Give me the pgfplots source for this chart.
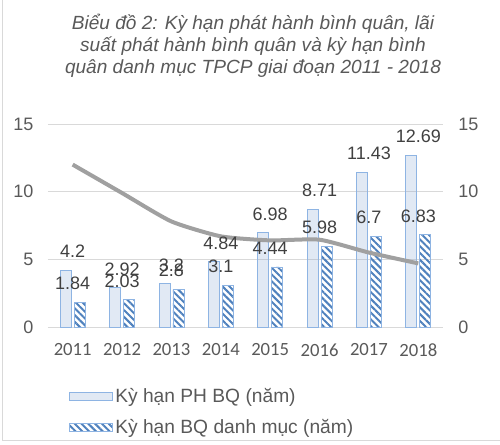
\documentclass[border=0pt]{standalone}
\usepackage{fontspec}
\setmainfont{Liberation Sans}
\newfontfamily\calibri{Carlito}
\usepackage{pgfplots}
\pgfplotsset{compat=1.18}
\usetikzlibrary{patterns.meta}
\definecolor{txt}{HTML}{595959}
\definecolor{lbl}{HTML}{404040}
\definecolor{barline}{HTML}{8EB4E3}
\definecolor{hatch}{HTML}{4F81BD}
\definecolor{dotc}{HTML}{7F9FCF}
\definecolor{linec}{HTML}{A0A0A0}
\definecolor{gridc}{HTML}{D9D9D9}
\pgfplotsset{rectlegend/.style={legend image code/.code={\draw[##1] (0pt,-3pt) rectangle (32pt,3pt);}}}
\begin{document}
\begin{tikzpicture}
\useasboundingbox (0,0) rectangle (375pt,333pt);
\draw[gridc, line width=0.75pt] (1.5pt,333pt) -- (1.5pt,3pt) -- (375pt,3pt);
\node[font=\fontsize{14.3}{16.5}\selectfont\itshape, text=txt, align=center] at (189.75pt,299pt)
 {Biểu đồ 2: Kỳ hạn phát hành bình quân, lãi\\suất phát hành bình quân và kỳ hạn bình\\quân danh mục TPCP giai đoạn 2011 - 2018};
\coordinate (axo) at (36pt,87.75pt);
\begin{axis}[
 at={(axo)}, anchor=south west,
 width=296.25pt, height=152.25pt, scale only axis,
 xmin=-0.5, xmax=7.5, ymin=0, ymax=15,
 ytick={0,5,10,15}, xtick={0,...,7},
 xticklabels={2011,2012,2013,2014,2015,2016,2017,2018},
 axis line style={draw=none}, major tick length=0pt,
 ymajorgrids, grid style={gridc, line width=0.75pt},
 tick label style={text=txt},
 yticklabel style={font=\fontsize{13.5}{14}\selectfont, xshift=-7.5pt},
 xticklabel style={font=\calibri\fontsize{14}{15}\selectfont, yshift=-9pt},
 /pgf/number format/assume math mode=true,
 legend style={at={(0.053,-0.29)}, anchor=north west, draw=none, fill=none,
   inner sep=0pt, row sep=6.5pt, font=\fontsize{14.4}{16}\selectfont, text=txt,
   cells={anchor=west}},
 legend cell align=left,
]
\addplot[ybar, bar width=8.25pt, bar shift=-5.25pt, draw=barline, line width=0.6pt,
  pattern={Dots[distance=1.5pt, radius=0.42pt]}, pattern color=dotc,
  nodes near coords, nodes near coords style={font=\fontsize{13.5}{14}\selectfont, text=lbl, yshift=5.5pt},
  rectlegend]
 coordinates {(0,4.2) (1,2.92) (2,3.2) (3,4.84) (4,6.98) (5,8.71) (6,11.43) (7,12.69)};
\addlegendentry{Kỳ hạn PH BQ (năm)}
\addplot[ybar, bar width=8.25pt, bar shift=5.25pt, draw=barline, line width=0.6pt,
  pattern={Lines[angle=-45, distance=3.6pt, line width=1.5pt]}, pattern color=hatch,
  nodes near coords, nodes near coords style={font=\fontsize{13.5}{14}\selectfont, text=lbl, yshift=5.5pt},
  rectlegend]
 coordinates {(0,1.84) (1,2.03) (2,2.8) (3,3.1) (4,4.44) (5,5.98) (6,6.7) (7,6.83)};
\addlegendentry{Kỳ hạn BQ danh mục (năm)}
\addplot[smooth, tension=0.35, draw=linec, line width=3pt, forget plot]
 coordinates {(0,12.0) (1,9.9) (2,7.8) (3,6.7) (4,6.4) (5,6.45) (6,5.5) (7,4.7)};
\end{axis}
\begin{axis}[
 at={(axo)}, anchor=south west,
 width=296.25pt, height=152.25pt, scale only axis,
 xmin=-0.5, xmax=7.5, ymin=0, ymax=15,
 ytick={0,5,10,15}, xtick=\empty,
 axis line style={draw=none}, major tick length=0pt,
 yticklabel pos=right,
 tick label style={text=txt},
 yticklabel style={font=\fontsize{13.5}{14}\selectfont, xshift=8pt},
 /pgf/number format/assume math mode=true,
]
\addplot[draw=none] coordinates {(0,0)};
\end{axis}
\end{tikzpicture}
\end{document}
